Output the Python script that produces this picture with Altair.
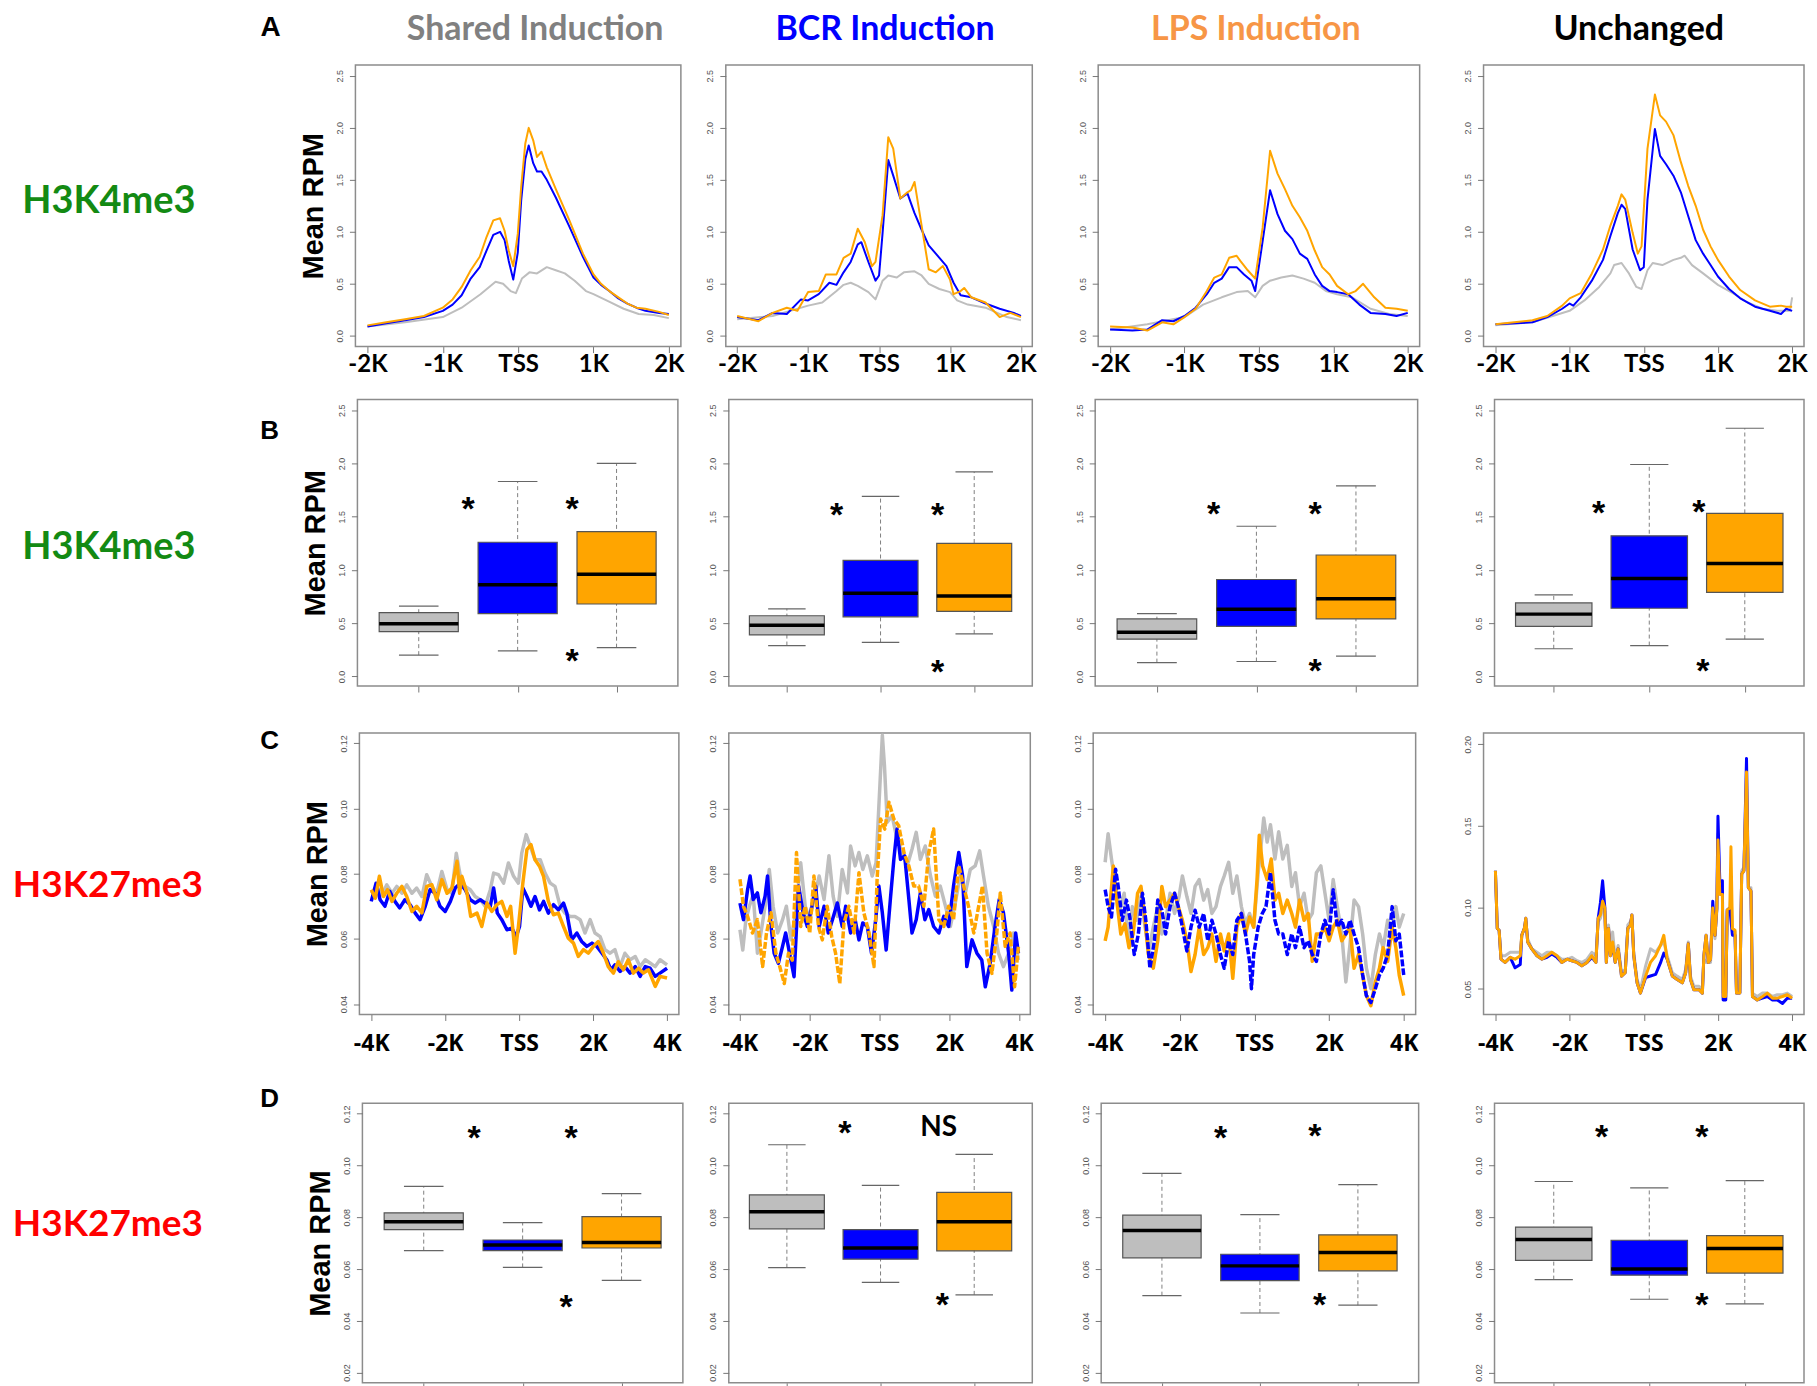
import altair as alt
import pandas as pd

# ---------------- colours / texts ----------------
GRAY = "#BEBEBE"
BLUE = "#0000FF"
ORANGE = "#FFA500"

COLUMN_TITLES = ["Shared Induction", "BCR Induction", "LPS Induction", "Unchanged"]
COLUMN_TITLE_COLORS = ["#808080", "#0000FF", "#F79646", "#000000"]
ROW_LABELS = ["H3K4me3", "H3K4me3", "H3K27me3", "H3K27me3"]
ROW_LABEL_COLORS = ["#138A13", "#138A13", "#FF0000", "#FF0000"]
PANEL_LETTERS = ["A", "B", "C", "D"]
Y_TITLE = "Mean RPM"

TICKS_2K = [-2, -1, 0, 1, 2]
LABELS_2K = ["-2K", "-1K", "TSS", "1K", "2K"]
TICKS_4K = [-4, -2, 0, 2, 4]
LABELS_4K = ["-4K", "-2K", "TSS", "2K", "4K"]
K4_Y_TICKS = [0.0, 0.5, 1.0, 1.5, 2.0, 2.5]
K27_Y_TICKS = [0.04, 0.06, 0.08, 0.10, 0.12]
K27_Y_TICKS_UNCH = [0.05, 0.10, 0.15, 0.20]
K27_BOX_Y_TICKS = [0.02, 0.04, 0.06, 0.08, 0.10, 0.12]
BOX_GROUPS = [1, 2, 3]
BOX_COLORS = [GRAY, BLUE, ORANGE]

# ---------------- row A : H3K4me3 profiles (x in kb) ----------------
A1_GRAY_X = [-2.0, -1.5, -1.0, -0.75, -0.5, -0.3, -0.2, -0.1, -0.03, 0.05, 0.15, 0.25, 0.38, 0.5, 0.62, 0.75, 0.9, 1.0, 1.2, 1.4, 1.6, 1.8, 2.0]
A1_GRAY_Y = [0.09, 0.13, 0.18, 0.27, 0.40, 0.52, 0.50, 0.43, 0.41, 0.55, 0.61, 0.60, 0.66, 0.63, 0.60, 0.53, 0.43, 0.40, 0.33, 0.26, 0.21, 0.20, 0.17]
A1_BLUE_X = [-2.0, -1.75, -1.5, -1.25, -1.0, -0.87, -0.75, -0.63, -0.51, -0.42, -0.33, -0.24, -0.18, -0.125, -0.065, -0.005, 0.04, 0.095, 0.14, 0.2, 0.25, 0.31, 0.38, 0.5, 0.68, 0.86, 1.0, 1.1, 1.21, 1.33, 1.45, 1.57, 1.69, 1.87, 2.0]
A1_BLUE_Y = [0.09, 0.12, 0.15, 0.18, 0.24, 0.30, 0.39, 0.55, 0.66, 0.82, 0.97, 1.00, 0.92, 0.72, 0.54, 0.80, 1.30, 1.70, 1.83, 1.66, 1.58, 1.58, 1.50, 1.33, 1.05, 0.76, 0.56, 0.49, 0.43, 0.36, 0.31, 0.27, 0.24, 0.22, 0.21]
A1_ORANGE_X = A1_BLUE_X
A1_ORANGE_Y = [0.10, 0.13, 0.16, 0.19, 0.27, 0.35, 0.47, 0.63, 0.76, 0.95, 1.11, 1.13, 1.01, 0.82, 0.67, 0.98, 1.43, 1.85, 2.00, 1.88, 1.72, 1.77, 1.62, 1.41, 1.11, 0.79, 0.59, 0.50, 0.43, 0.37, 0.31, 0.27, 0.26, 0.23, 0.20]

A2_GRAY_X = [-2.0, -1.5, -1.0, -0.8, -0.6, -0.5, -0.4, -0.3, -0.15, -0.05, 0.05, 0.13, 0.25, 0.35, 0.5, 0.6, 0.7, 0.85, 1.0, 1.1, 1.25, 1.5, 1.8, 2.0]
A2_GRAY_Y = [0.16, 0.19, 0.29, 0.32, 0.43, 0.49, 0.51, 0.48, 0.42, 0.35, 0.53, 0.58, 0.56, 0.61, 0.62, 0.58, 0.50, 0.45, 0.42, 0.34, 0.30, 0.27, 0.18, 0.15]
A2_BLUE_X = [-2.0, -1.7, -1.5, -1.3, -1.1, -1.0, -0.85, -0.7, -0.6, -0.5, -0.4, -0.3, -0.25, -0.15, -0.05, 0.0, 0.05, 0.13, 0.2, 0.3, 0.4, 0.5, 0.6, 0.7, 0.8, 0.95, 1.05, 1.15, 1.3, 1.5, 1.7, 1.9, 2.0]
A2_BLUE_Y = [0.18, 0.15, 0.22, 0.21, 0.35, 0.34, 0.40, 0.51, 0.49, 0.61, 0.71, 0.88, 0.90, 0.71, 0.53, 0.58, 0.99, 1.69, 1.54, 1.32, 1.37, 1.18, 1.02, 0.87, 0.79, 0.67, 0.51, 0.39, 0.37, 0.31, 0.26, 0.22, 0.19]
A2_ORANGE_X = [-2.0, -1.7, -1.5, -1.3, -1.15, -1.0, -0.85, -0.75, -0.6, -0.5, -0.4, -0.3, -0.2, -0.1, -0.05, 0.05, 0.13, 0.2, 0.3, 0.4, 0.45, 0.5, 0.6, 0.7, 0.8, 0.9, 1.0, 1.05, 1.15, 1.2, 1.3, 1.5, 1.7, 1.85, 2.0]
A2_ORANGE_Y = [0.19, 0.14, 0.22, 0.27, 0.24, 0.42, 0.43, 0.59, 0.59, 0.75, 0.79, 1.03, 0.90, 0.67, 0.71, 1.16, 1.91, 1.80, 1.32, 1.38, 1.40, 1.48, 1.06, 0.64, 0.61, 0.67, 0.54, 0.40, 0.43, 0.46, 0.37, 0.32, 0.18, 0.22, 0.18]

A3_GRAY_X = [-2.0, -1.5, -1.0, -0.75, -0.5, -0.3, -0.15, -0.05, 0.05, 0.15, 0.3, 0.45, 0.6, 0.75, 0.9, 1.05, 1.25, 1.5, 1.75, 2.0]
A3_GRAY_Y = [0.06, 0.11, 0.18, 0.30, 0.37, 0.42, 0.43, 0.37, 0.48, 0.53, 0.56, 0.58, 0.55, 0.51, 0.43, 0.40, 0.37, 0.26, 0.21, 0.19]
A3_BLUE_X = [-2.0, -1.7, -1.5, -1.3, -1.15, -1.0, -0.85, -0.7, -0.6, -0.5, -0.4, -0.3, -0.2, -0.1, -0.05, 0.05, 0.15, 0.25, 0.35, 0.45, 0.55, 0.65, 0.75, 0.85, 0.95, 1.05, 1.2, 1.35, 1.5, 1.7, 1.85, 2.0]
A3_BLUE_Y = [0.06, 0.05, 0.06, 0.15, 0.14, 0.19, 0.27, 0.40, 0.51, 0.55, 0.66, 0.66, 0.59, 0.53, 0.43, 0.91, 1.40, 1.17, 1.01, 0.93, 0.79, 0.74, 0.59, 0.48, 0.43, 0.42, 0.40, 0.30, 0.22, 0.21, 0.19, 0.22]
A3_ORANGE_X = [-2.0, -1.7, -1.5, -1.3, -1.15, -1.0, -0.85, -0.7, -0.6, -0.5, -0.4, -0.3, -0.25, -0.15, -0.05, 0.05, 0.15, 0.25, 0.35, 0.45, 0.55, 0.65, 0.75, 0.85, 0.95, 1.05, 1.2, 1.3, 1.4, 1.55, 1.7, 1.85, 2.0]
A3_ORANGE_Y = [0.09, 0.08, 0.05, 0.13, 0.11, 0.18, 0.26, 0.43, 0.56, 0.59, 0.75, 0.77, 0.72, 0.63, 0.55, 1.04, 1.78, 1.56, 1.41, 1.25, 1.14, 1.01, 0.82, 0.66, 0.59, 0.48, 0.40, 0.43, 0.50, 0.37, 0.27, 0.26, 0.24]

A4_GRAY_X = [-2.0, -1.5, -1.0, -0.8, -0.6, -0.45, -0.4, -0.3, -0.2, -0.1, -0.03, 0.05, 0.12, 0.25, 0.4, 0.5, 0.55, 0.65, 0.8, 1.0, 1.2, 1.4, 1.6, 1.8, 1.97, 2.0]
A4_GRAY_Y = [0.10, 0.13, 0.24, 0.34, 0.47, 0.60, 0.68, 0.70, 0.60, 0.47, 0.45, 0.63, 0.70, 0.68, 0.73, 0.75, 0.77, 0.68, 0.60, 0.49, 0.41, 0.32, 0.26, 0.24, 0.24, 0.37]
A4_BLUE_X = [-2.0, -1.5, -1.3, -1.1, -1.0, -0.95, -0.85, -0.7, -0.55, -0.45, -0.35, -0.3, -0.25, -0.15, -0.05, 0.0, 0.05, 0.15, 0.22, 0.3, 0.4, 0.5, 0.6, 0.7, 0.8, 0.9, 1.0, 1.15, 1.3, 1.5, 1.7, 1.85, 1.92, 2.0]
A4_BLUE_Y = [0.11, 0.13, 0.18, 0.26, 0.31, 0.29, 0.37, 0.53, 0.73, 0.96, 1.18, 1.26, 1.22, 0.83, 0.63, 0.66, 1.31, 1.99, 1.73, 1.65, 1.54, 1.38, 1.15, 0.92, 0.79, 0.68, 0.57, 0.45, 0.36, 0.28, 0.24, 0.21, 0.26, 0.24]
A4_ORANGE_X = [-2.0, -1.5, -1.3, -1.1, -1.0, -0.85, -0.7, -0.55, -0.45, -0.35, -0.3, -0.25, -0.15, -0.08, -0.03, 0.05, 0.15, 0.22, 0.3, 0.4, 0.5, 0.6, 0.7, 0.8, 0.9, 1.0, 1.15, 1.3, 1.5, 1.7, 1.85, 1.92, 2.0]
A4_ORANGE_Y = [0.11, 0.15, 0.19, 0.29, 0.36, 0.41, 0.60, 0.83, 1.06, 1.25, 1.36, 1.31, 0.99, 0.79, 0.86, 1.80, 2.32, 2.12, 2.06, 1.93, 1.67, 1.44, 1.25, 1.02, 0.86, 0.73, 0.57, 0.44, 0.34, 0.28, 0.29, 0.28, 0.28]

# ---------------- row B : H3K4me3 box statistics [low, q1, median, q3, high] ----------------
B1_STATS = [[0.20, 0.42, 0.495, 0.60, 0.66], [0.24, 0.59, 0.86, 1.26, 1.83], [0.27, 0.68, 0.96, 1.36, 2.00]]
B2_STATS = [[0.29, 0.39, 0.48, 0.57, 0.635], [0.32, 0.56, 0.78, 1.09, 1.69], [0.40, 0.61, 0.755, 1.25, 1.92]]
B3_STATS = [[0.13, 0.35, 0.415, 0.54, 0.59], [0.14, 0.47, 0.63, 0.91, 1.41], [0.19, 0.54, 0.73, 1.14, 1.79]]
B4_STATS = [[0.26, 0.47, 0.585, 0.69, 0.765], [0.29, 0.64, 0.92, 1.32, 1.99], [0.35, 0.79, 1.06, 1.53, 2.33]]
B1_MARKS = [("*", 1.50, 1.65), ("*", 2.55, 1.65), ("*", 2.55, 0.22)]
B2_MARKS = [("*", 1.53, 1.59), ("*", 2.61, 1.59), ("*", 2.61, 0.12)]
B3_MARKS = [("*", 1.57, 1.60), ("*", 2.59, 1.60), ("*", 2.59, 0.13)]
B4_MARKS = [("*", 1.47, 1.61), ("*", 2.52, 1.62), ("*", 2.56, 0.13)]

# ---------------- row C : H3K27me3 profiles (x in kb) ----------------
C1_GRAY_X = [-4.00, -3.85, -3.71, -3.58, -3.44, -3.31, -3.17, -3.04, -2.90, -2.77, -2.63, -2.50, -2.36, -2.23, -2.09, -1.95, -1.82, -1.70, -1.59, -1.46, -1.32, -1.19, -1.05, -0.92, -0.78, -0.69, -0.56, -0.42, -0.29, -0.15, -0.02, 0.07, 0.19, 0.30, 0.43, 0.57, 0.70, 0.84, 0.97, 1.11, 1.24, 1.38, 1.51, 1.65, 1.78, 1.92, 2.05, 2.19, 2.32, 2.46, 2.59, 2.73, 2.86, 3.00, 3.14, 3.27, 3.41, 3.54, 3.68, 3.81, 4.00]
C1_GRAY_Y = [0.074, 0.0761, 0.0735, 0.0766, 0.074, 0.0761, 0.074, 0.0766, 0.074, 0.0756, 0.073, 0.0797, 0.0761, 0.074, 0.0807, 0.0751, 0.074, 0.0863, 0.0792, 0.0761, 0.0751, 0.073, 0.072, 0.070, 0.0751, 0.0802, 0.0797, 0.0771, 0.0833, 0.0792, 0.0771, 0.0863, 0.092, 0.0884, 0.0843, 0.0843, 0.0802, 0.0771, 0.0761, 0.070, 0.0679, 0.0669, 0.0669, 0.0659, 0.0618, 0.0659, 0.0618, 0.0607, 0.0567, 0.0556, 0.0567, 0.0515, 0.0556, 0.0536, 0.0546, 0.0515, 0.0536, 0.0526, 0.0515, 0.0536, 0.052]
C1_BLUE_X = [-4.00, -3.87, -3.76, -3.63, -3.50, -3.36, -3.23, -3.09, -2.95, -2.81, -2.68, -2.54, -2.41, -2.27, -2.14, -2.00, -1.86, -1.73, -1.59, -1.46, -1.32, -1.19, -1.05, -0.92, -0.78, -0.69, -0.59, -0.47, -0.33, -0.20, -0.08, 0.01, 0.10, 0.21, 0.32, 0.43, 0.55, 0.66, 0.79, 0.93, 1.06, 1.20, 1.29, 1.42, 1.56, 1.69, 1.83, 1.97, 2.10, 2.24, 2.37, 2.48, 2.59, 2.73, 2.86, 3.00, 3.14, 3.27, 3.41, 3.54, 3.68, 3.81, 4.00]
C1_BLUE_Y = [0.0715, 0.0771, 0.072, 0.070, 0.0746, 0.0715, 0.0695, 0.072, 0.0705, 0.0679, 0.0659, 0.070, 0.0751, 0.074, 0.070, 0.0684, 0.0715, 0.0756, 0.0771, 0.0751, 0.072, 0.071, 0.072, 0.071, 0.070, 0.0756, 0.0679, 0.0659, 0.0628, 0.0633, 0.0607, 0.0638, 0.0756, 0.073, 0.070, 0.073, 0.0689, 0.0715, 0.0679, 0.0705, 0.0689, 0.071, 0.0679, 0.0597, 0.0618, 0.0592, 0.0577, 0.0587, 0.0577, 0.0556, 0.0536, 0.0505, 0.052, 0.05, 0.0515, 0.0495, 0.0515, 0.0485, 0.0515, 0.051, 0.0485, 0.0495, 0.051]
C1_ORANGE_X = [-4.00, -3.89, -3.78, -3.67, -3.56, -3.44, -3.31, -3.17, -3.04, -2.90, -2.77, -2.63, -2.50, -2.36, -2.23, -2.09, -1.95, -1.82, -1.68, -1.61, -1.55, -1.41, -1.31, -1.14, -1.01, -0.87, -0.74, -0.60, -0.47, -0.33, -0.23, -0.11, -0.02, 0.10, 0.21, 0.32, 0.43, 0.55, 0.66, 0.79, 0.93, 1.06, 1.20, 1.33, 1.47, 1.60, 1.74, 1.87, 2.01, 2.14, 2.28, 2.41, 2.55, 2.68, 2.82, 2.95, 3.09, 3.23, 3.36, 3.50, 3.68, 3.81, 4.00]
C1_ORANGE_Y = [0.0751, 0.0725, 0.0792, 0.073, 0.0751, 0.0715, 0.074, 0.0761, 0.073, 0.0684, 0.070, 0.068, 0.0761, 0.0766, 0.072, 0.0782, 0.074, 0.0756, 0.0838, 0.074, 0.0792, 0.074, 0.0669, 0.0679, 0.0638, 0.071, 0.0684, 0.0705, 0.0715, 0.0669, 0.070, 0.0556, 0.0638, 0.0771, 0.0874, 0.0889, 0.0843, 0.0823, 0.0792, 0.0715, 0.0674, 0.0679, 0.0638, 0.0602, 0.0587, 0.0546, 0.0567, 0.0556, 0.0577, 0.0592, 0.0556, 0.0515, 0.0495, 0.053, 0.0505, 0.0536, 0.0495, 0.051, 0.0495, 0.0505, 0.0454, 0.0485, 0.048]

C2_GRAY_X = [-4.00, -3.92, -3.83, -3.73, -3.62, -3.50, -3.40, -3.28, -3.16, -3.05, -2.92, -2.78, -2.67, -2.54, -2.40, -2.26, -2.13, -2.00, -1.88, -1.73, -1.59, -1.45, -1.33, -1.21, -1.07, -0.92, -0.83, -0.70, -0.59, -0.48, -0.35, -0.21, -0.10, 0.01, 0.08, 0.14, 0.22, 0.36, 0.50, 0.65, 0.79, 0.93, 1.05, 1.17, 1.31, 1.46, 1.60, 1.74, 1.89, 2.03, 2.17, 2.31, 2.46, 2.60, 2.74, 2.87, 2.98, 3.12, 3.27, 3.41, 3.55, 3.70, 3.84, 3.98]
C2_GRAY_Y = [0.0628, 0.0566, 0.0659, 0.070, 0.0736, 0.0556, 0.0618, 0.070, 0.0813, 0.070, 0.0618, 0.0659, 0.070, 0.0597, 0.068, 0.0834, 0.070, 0.0659, 0.0721, 0.0793, 0.0721, 0.0855, 0.0731, 0.0669, 0.0813, 0.0741, 0.0885, 0.0824, 0.0865, 0.0813, 0.0855, 0.0793, 0.0834, 0.1071, 0.1225, 0.1133, 0.0958, 0.0978, 0.0906, 0.0865, 0.0824, 0.0875, 0.0927, 0.0844, 0.0885, 0.0793, 0.0731, 0.0762, 0.070, 0.0638, 0.071, 0.0793, 0.0741, 0.0813, 0.0824, 0.087, 0.0793, 0.070, 0.0638, 0.0556, 0.0515, 0.0556, 0.0618, 0.0535]
C2_BLUE_X = [-4.00, -3.90, -3.78, -3.71, -3.62, -3.50, -3.40, -3.28, -3.21, -3.11, -3.02, -2.90, -2.78, -2.69, -2.54, -2.45, -2.32, -2.19, -2.07, -1.94, -1.83, -1.73, -1.59, -1.47, -1.35, -1.21, -1.07, -0.97, -0.83, -0.70, -0.59, -0.48, -0.35, -0.23, -0.11, -0.02, 0.08, 0.19, 0.31, 0.41, 0.50, 0.60, 0.72, 0.84, 0.93, 1.05, 1.17, 1.30, 1.41, 1.55, 1.70, 1.84, 1.98, 2.12, 2.27, 2.38, 2.50, 2.65, 2.79, 2.93, 3.03, 3.17, 3.31, 3.43, 3.55, 3.70, 3.79, 3.90, 3.98]
C2_BLUE_Y = [0.071, 0.0659, 0.0752, 0.0793, 0.0721, 0.0741, 0.068, 0.0731, 0.0793, 0.0638, 0.0556, 0.0525, 0.0577, 0.0618, 0.0535, 0.0484, 0.0762, 0.068, 0.0638, 0.070, 0.0762, 0.0638, 0.070, 0.0618, 0.0659, 0.071, 0.0638, 0.070, 0.0618, 0.0659, 0.0597, 0.0649, 0.0638, 0.0556, 0.0659, 0.0762, 0.068, 0.0566, 0.0721, 0.0844, 0.0937, 0.0844, 0.0855, 0.0721, 0.0618, 0.0659, 0.0741, 0.0659, 0.069, 0.0638, 0.0618, 0.0669, 0.0638, 0.0762, 0.0865, 0.0793, 0.0515, 0.0597, 0.0556, 0.0535, 0.0453, 0.0525, 0.0638, 0.0721, 0.068, 0.0556, 0.0443, 0.0618, 0.0556]
C2_ORANGE_X = [-4.00, -3.90, -3.78, -3.64, -3.50, -3.35, -3.24, -3.11, -2.97, -2.86, -2.73, -2.61, -2.50, -2.38, -2.26, -2.13, -2.00, -1.88, -1.75, -1.64, -1.50, -1.37, -1.26, -1.14, -1.02, -0.88, -0.73, -0.59, -0.45, -0.30, -0.16, -0.07, 0.03, 0.15, 0.27, 0.41, 0.55, 0.70, 0.84, 0.98, 1.12, 1.27, 1.41, 1.55, 1.70, 1.84, 1.98, 2.12, 2.27, 2.41, 2.55, 2.70, 2.84, 2.95, 3.08, 3.22, 3.36, 3.46, 3.60, 3.74, 3.87, 3.98]
C2_ORANGE_Y = [0.0783, 0.070, 0.0669, 0.0618, 0.0659, 0.0515, 0.0618, 0.068, 0.0556, 0.0515, 0.0463, 0.0556, 0.0535, 0.0865, 0.0638, 0.070, 0.0618, 0.0793, 0.0638, 0.0597, 0.070, 0.0607, 0.0556, 0.0463, 0.0649, 0.070, 0.0618, 0.0803, 0.068, 0.0618, 0.0515, 0.0783, 0.0968, 0.0937, 0.1019, 0.0968, 0.0947, 0.0865, 0.0824, 0.0762, 0.0762, 0.070, 0.0865, 0.0937, 0.0659, 0.0638, 0.070, 0.0659, 0.0824, 0.0762, 0.070, 0.0618, 0.070, 0.0762, 0.0556, 0.0494, 0.0618, 0.0741, 0.0577, 0.0618, 0.0453, 0.0577]

C3_GRAY_X = [-4.00, -3.92, -3.83, -3.72, -3.61, -3.49, -3.38, -3.27, -3.16, -3.04, -2.93, -2.83, -2.71, -2.59, -2.48, -2.38, -2.26, -2.14, -2.02, -1.93, -1.81, -1.70, -1.59, -1.48, -1.36, -1.25, -1.14, -1.03, -0.91, -0.81, -0.69, -0.58, -0.47, -0.35, -0.24, -0.13, -0.02, 0.10, 0.16, 0.25, 0.34, 0.43, 0.55, 0.65, 0.76, 0.88, 1.00, 1.10, 1.21, 1.33, 1.44, 1.55, 1.66, 1.78, 1.89, 2.00, 2.11, 2.22, 2.34, 2.45, 2.56, 2.67, 2.79, 2.90, 3.00, 3.12, 3.24, 3.35, 3.45, 3.57, 3.69, 3.79, 3.88, 4.00]
C3_GRAY_Y = [0.0835, 0.0923, 0.0845, 0.0761, 0.0688, 0.074, 0.0594, 0.0699, 0.0657, 0.073, 0.0636, 0.0563, 0.0636, 0.0699, 0.0615, 0.0657, 0.074, 0.0678, 0.073, 0.0793, 0.073, 0.0678, 0.0761, 0.0782, 0.0719, 0.0751, 0.0678, 0.0699, 0.0761, 0.0793, 0.0835, 0.074, 0.0793, 0.0699, 0.0646, 0.0678, 0.0636, 0.0803, 0.0866, 0.0971, 0.0897, 0.095, 0.0845, 0.0929, 0.0845, 0.0887, 0.0761, 0.0803, 0.0699, 0.074, 0.0657, 0.0678, 0.0803, 0.0824, 0.074, 0.0657, 0.0782, 0.0699, 0.0615, 0.0468, 0.0583, 0.0719, 0.0699, 0.0615, 0.051, 0.0447, 0.0552, 0.0615, 0.0573, 0.0657, 0.0636, 0.0699, 0.0636, 0.0678]
C3_BLUE_X = [-4.00, -3.92, -3.83, -3.72, -3.65, -3.54, -3.43, -3.34, -3.22, -3.11, -3.00, -2.91, -2.80, -2.68, -2.59, -2.48, -2.38, -2.26, -2.14, -2.04, -1.93, -1.81, -1.70, -1.59, -1.48, -1.36, -1.25, -1.14, -1.03, -0.91, -0.81, -0.69, -0.58, -0.47, -0.35, -0.24, -0.13, -0.08, -0.02, 0.10, 0.21, 0.31, 0.43, 0.55, 0.65, 0.76, 0.88, 1.00, 1.10, 1.21, 1.33, 1.44, 1.55, 1.66, 1.78, 1.89, 2.00, 2.11, 2.22, 2.34, 2.45, 2.56, 2.67, 2.79, 2.90, 3.00, 3.12, 3.24, 3.35, 3.45, 3.57, 3.69, 3.79, 3.88, 4.00]
C3_BLUE_Y = [0.0751, 0.0699, 0.0667, 0.0814, 0.0761, 0.0657, 0.0719, 0.0667, 0.0552, 0.0615, 0.074, 0.0657, 0.051, 0.0594, 0.0719, 0.0688, 0.0615, 0.0699, 0.074, 0.0699, 0.0636, 0.0563, 0.0636, 0.0688, 0.0636, 0.0678, 0.0594, 0.0657, 0.0615, 0.0552, 0.051, 0.0594, 0.0552, 0.0657, 0.0678, 0.0615, 0.0531, 0.0447, 0.0552, 0.0636, 0.0678, 0.0699, 0.0803, 0.0657, 0.0615, 0.0615, 0.0552, 0.0615, 0.0573, 0.0636, 0.0573, 0.0594, 0.0552, 0.0531, 0.0615, 0.0657, 0.0615, 0.0751, 0.0636, 0.0657, 0.0615, 0.0657, 0.0615, 0.0573, 0.0489, 0.0426, 0.0405, 0.0447, 0.0489, 0.051, 0.0552, 0.0699, 0.0594, 0.0615, 0.0489]
C3_ORANGE_X = [-4.00, -3.92, -3.78, -3.69, -3.58, -3.47, -3.36, -3.25, -3.13, -3.04, -2.95, -2.84, -2.71, -2.59, -2.48, -2.38, -2.26, -2.14, -2.04, -1.93, -1.81, -1.70, -1.59, -1.48, -1.36, -1.25, -1.14, -1.03, -0.91, -0.81, -0.69, -0.58, -0.47, -0.35, -0.24, -0.13, -0.02, 0.07, 0.13, 0.22, 0.34, 0.45, 0.55, 0.65, 0.76, 0.88, 1.00, 1.10, 1.21, 1.33, 1.44, 1.55, 1.66, 1.78, 1.89, 2.00, 2.11, 2.22, 2.34, 2.45, 2.56, 2.67, 2.79, 2.90, 3.00, 3.12, 3.24, 3.35, 3.45, 3.57, 3.69, 3.79, 3.88, 4.00]
C3_ORANGE_Y = [0.0594, 0.0636, 0.0824, 0.0719, 0.0615, 0.0646, 0.0573, 0.0615, 0.074, 0.0761, 0.0678, 0.0552, 0.051, 0.0594, 0.0761, 0.0699, 0.0719, 0.074, 0.0699, 0.0657, 0.0594, 0.05, 0.0552, 0.0636, 0.0552, 0.0573, 0.0615, 0.0531, 0.0615, 0.0563, 0.0615, 0.0479, 0.0636, 0.0678, 0.0615, 0.0667, 0.0636, 0.0782, 0.0918, 0.0824, 0.0782, 0.0845, 0.0719, 0.074, 0.0678, 0.0719, 0.0678, 0.0636, 0.0719, 0.0657, 0.0678, 0.0531, 0.0615, 0.0615, 0.0636, 0.0594, 0.0636, 0.0657, 0.0594, 0.0615, 0.0636, 0.051, 0.0552, 0.0489, 0.0426, 0.0395, 0.0468, 0.051, 0.0573, 0.0531, 0.0636, 0.0573, 0.0489, 0.0426]

C4_X = [-4.00, -3.95, -3.90, -3.85, -3.74, -3.60, -3.47, -3.33, -3.29, -3.22, -3.18, -3.13, -3.02, -2.88, -2.75, -2.61, -2.48, -2.34, -2.21, -2.07, -1.94, -1.80, -1.67, -1.53, -1.40, -1.29, -1.23, -1.17, -1.11, -1.05, -1.01, -0.95, -0.90, -0.84, -0.77, -0.69, -0.60, -0.50, -0.43, -0.36, -0.32, -0.27, -0.18, -0.09, 0.05, 0.18, 0.32, 0.45, 0.54, 0.63, 0.77, 0.90, 1.04, 1.13, 1.20, 1.26, 1.35, 1.49, 1.58, 1.62, 1.68, 1.74, 1.80, 1.86, 1.92, 1.97, 2.00, 2.05, 2.12, 2.14, 2.21, 2.25, 2.32, 2.35, 2.39, 2.46, 2.50, 2.59, 2.64, 2.70, 2.77, 2.82, 2.89, 2.93, 3.06, 3.20, 3.33, 3.47, 3.60, 3.74, 3.87, 4.00]
C4_GRAY_Y = [0.1225, 0.0871, 0.086, 0.0704, 0.0704, 0.0725, 0.0725, 0.0725, 0.0829, 0.0871, 0.0912, 0.0808, 0.0746, 0.0725, 0.0704, 0.0725, 0.0725, 0.0704, 0.0683, 0.0683, 0.0694, 0.0673, 0.0663, 0.0683, 0.0725, 0.0704, 0.0912, 0.0933, 0.0996, 0.0975, 0.0725, 0.0892, 0.0746, 0.0850, 0.0683, 0.0767, 0.0600, 0.0621, 0.0892, 0.0912, 0.0933, 0.0725, 0.0558, 0.0496, 0.0642, 0.0746, 0.0725, 0.0767, 0.0788, 0.0704, 0.0600, 0.0579, 0.0558, 0.0621, 0.0788, 0.0579, 0.0517, 0.0517, 0.0496, 0.0683, 0.0663, 0.0663, 0.0663, 0.0975, 0.0808, 0.0975, 0.1450, 0.1100, 0.1100, 0.0475, 0.0475, 0.0975, 0.0975, 0.1100, 0.0871, 0.0850, 0.0475, 0.0475, 0.1225, 0.1246, 0.1750, 0.1121, 0.1121, 0.0475, 0.0454, 0.0475, 0.0475, 0.0454, 0.0465, 0.0465, 0.0475, 0.0454]
C4_BLUE_Y = [0.1225, 0.0871, 0.086, 0.0683, 0.0663, 0.0694, 0.063, 0.065, 0.0829, 0.0871, 0.0933, 0.0788, 0.0746, 0.0704, 0.0683, 0.0694, 0.0715, 0.0694, 0.0663, 0.0683, 0.0673, 0.0663, 0.0642, 0.0663, 0.0694, 0.0663, 0.0933, 0.1027, 0.1163, 0.1000, 0.0663, 0.0871, 0.0704, 0.0767, 0.0663, 0.0746, 0.0579, 0.06, 0.0871, 0.0892, 0.0954, 0.0704, 0.0538, 0.0475, 0.057, 0.058, 0.059, 0.066, 0.072, 0.0683, 0.0579, 0.0558, 0.0538, 0.06, 0.0777, 0.0558, 0.0496, 0.0496, 0.0475, 0.0704, 0.0829, 0.0663, 0.0683, 0.1038, 0.0829, 0.0996, 0.1558, 0.116, 0.1163, 0.0433, 0.0433, 0.0985, 0.0996, 0.092, 0.083, 0.083, 0.0475, 0.0475, 0.1204, 0.1225, 0.1913, 0.1121, 0.11, 0.0454, 0.0433, 0.0444, 0.0454, 0.0433, 0.0433, 0.0412, 0.0444, 0.0444]
C4_ORANGE_Y = [0.1225, 0.0871, 0.086, 0.0683, 0.0663, 0.0694, 0.0683, 0.0704, 0.0829, 0.0871, 0.0933, 0.0788, 0.0746, 0.0704, 0.0683, 0.0704, 0.0725, 0.0704, 0.0663, 0.0683, 0.0673, 0.0663, 0.0642, 0.0663, 0.0704, 0.0663, 0.0933, 0.0954, 0.1038, 0.0996, 0.0663, 0.0871, 0.0704, 0.0788, 0.0663, 0.0746, 0.0579, 0.06, 0.0871, 0.0892, 0.0954, 0.0704, 0.0538, 0.0475, 0.0579, 0.0663, 0.0704, 0.0767, 0.0829, 0.0683, 0.0579, 0.0558, 0.0538, 0.06, 0.0777, 0.0558, 0.0496, 0.0496, 0.0475, 0.0704, 0.0829, 0.0663, 0.0683, 0.0996, 0.0829, 0.0996, 0.1413, 0.1079, 0.1079, 0.0454, 0.0454, 0.0985, 0.0996, 0.1371, 0.0871, 0.086, 0.0475, 0.0475, 0.1204, 0.1225, 0.1829, 0.1121, 0.11, 0.0454, 0.0433, 0.0454, 0.0475, 0.0444, 0.0444, 0.0454, 0.0465, 0.0444]

# ---------------- row D : H3K27me3 box statistics ----------------
D1_STATS = [[0.0671, 0.0752, 0.0782, 0.0817, 0.0919], [0.0606, 0.0671, 0.0693, 0.0712, 0.0779], [0.0556, 0.0681, 0.0702, 0.0802, 0.0891]]
D2_STATS = [[0.0605, 0.0755, 0.0821, 0.0886, 0.108], [0.0548, 0.0638, 0.0681, 0.0752, 0.0923], [0.050, 0.067, 0.0782, 0.0896, 0.1043]]
D3_STATS = [[0.0497, 0.0643, 0.0749, 0.0808, 0.0969], [0.043, 0.0555, 0.0612, 0.0657, 0.081], [0.046, 0.0593, 0.0664, 0.0732, 0.0926]]
D4_STATS = [[0.0559, 0.0633, 0.0714, 0.0762, 0.0938], [0.0483, 0.0576, 0.060, 0.0711, 0.0913], [0.0465, 0.0584, 0.0679, 0.0729, 0.0941]]
D1_MARKS = [("*", 1.51, 0.1136), ("*", 2.49, 0.1136), ("*", 2.44, 0.0485)]
D2_MARKS = [("*", 1.62, 0.1158), ("NS", 2.62, 0.1145), ("*", 2.66, 0.0490)]
D3_MARKS = [("*", 1.60, 0.1138), ("*", 2.56, 0.1144), ("*", 2.61, 0.0493)]
D4_MARKS = [("*", 1.50, 0.1142), ("*", 2.55, 0.1140), ("*", 2.55, 0.0492)]

DUMMY = pd.DataFrame({"d": [0]})
BOX_HALF = 0.4
CAP_HALF = 0.2


def label_expr(ticks, labels):
    expr = "''"
    for t, lab in reversed(list(zip(ticks, labels))):
        expr = f"datum.value == {t} ? '{lab}' : {expr}"
    return expr


def x_axis_profile(ticks, labels, font, size, pad):
    return alt.Axis(values=ticks, labelExpr=label_expr(ticks, labels), labelFont=font,
                    labelFontSize=size, labelFontWeight="bold", labelColor="black",
                    labelPadding=pad, tickSize=6, tickColor="#777777", tickWidth=1,
                    domain=False, grid=False, labelFlush=False, labelOverlap=False)


def y_axis(ticks, fmt, with_title):
    kw = dict(values=ticks, format=fmt, labelAngle=270, labelAlign="center",
              labelBaseline="bottom", labelFont="Liberation Sans", labelFontSize=9,
              labelColor="#555555", labelPadding=5, tickSize=6, tickColor="#777777",
              tickWidth=1, domain=False, grid=False, labelFlush=False, labelOverlap=False)
    if with_title:
        kw.update(titleFont="Liberation Sans", titleFontSize=29, titleFontWeight="bold",
                  titleColor="black", titlePadding=7)
    return alt.Axis(**kw)


def col_title(i, dx):
    return alt.TitleParams(COLUMN_TITLES[i], color=COLUMN_TITLE_COLORS[i], font="Lato",
                           fontSize=34, fontWeight="bold", offset=18, anchor="middle", dx=dx)


def profile_panel(series, xdom, xticks, xlabels, xfont, xsize, xpad, ydom, yticks, yfmt,
                  width, height, sw, ytitle=None, title=None):
    xs = alt.Scale(domain=xdom, nice=False, zero=False)
    ys = alt.Scale(domain=ydom, nice=False, zero=False)
    xa = x_axis_profile(xticks, xlabels, xfont, xsize, xpad)
    ya = y_axis(yticks, yfmt, ytitle is not None)
    layers = []
    for xv, yv, color, dash in series:
        n = min(len(xv), len(yv))
        df = pd.DataFrame({"x": xv[:n], "y": yv[:n]})
        mk = dict(color=color, strokeWidth=sw, clip=True, strokeJoin="round")
        if dash:
            mk["strokeDash"] = dash
        layers.append(alt.Chart(df).mark_line(**mk).encode(
            x=alt.X("x:Q", scale=xs, axis=xa, title=None),
            y=alt.Y("y:Q", scale=ys, axis=ya, title=ytitle)))
    ch = alt.layer(*layers)
    if title is not None:
        return ch.properties(width=width, height=height, title=title)
    return ch.properties(width=width, height=height)


def box_panel(stats, marks, ydom, yticks, yfmt, width, height, ytitle=None):
    rows = []
    for g, col, (lo, q1, md, q3, hi) in zip(BOX_GROUPS, BOX_COLORS, stats):
        rows.append(dict(g=g, fill=col, lo=lo, q1=q1, md=md, q3=q3, hi=hi,
                         bl=g - BOX_HALF, br=g + BOX_HALF, cl=g - CAP_HALF, cr=g + CAP_HALF))
    df = pd.DataFrame(rows)
    xs = alt.Scale(domain=[0.38, 3.62], nice=False, zero=False)
    ys = alt.Scale(domain=ydom, nice=False, zero=False)
    xa = alt.Axis(values=BOX_GROUPS, labels=False, tickSize=6, tickColor="#777777",
                  tickWidth=1, domain=False, grid=False)
    ya = y_axis(yticks, yfmt, ytitle is not None)

    def X(f):
        return alt.X(f, scale=xs, axis=xa, title=None)

    def Y(f):
        return alt.Y(f, scale=ys, axis=ya, title=ytitle)

    base = alt.Chart(df)
    whisk = base.mark_rule(color="#808080", strokeDash=[4, 3], strokeWidth=1).encode(
        x=X("g:Q"), y=Y("lo:Q"), y2="hi:Q")
    box = base.mark_rect(stroke="#555555", strokeWidth=1.2).encode(
        x=X("bl:Q"), x2="br:Q", y=Y("q1:Q"), y2="q3:Q", fill=alt.Fill("fill:N", scale=None))
    med = base.mark_rule(color="black", strokeWidth=3.5).encode(x=X("bl:Q"), x2="br:Q", y=Y("md:Q"))
    cap_lo = base.mark_rule(color="#666666", strokeWidth=1.2).encode(x=X("cl:Q"), x2="cr:Q", y=Y("lo:Q"))
    cap_hi = base.mark_rule(color="#666666", strokeWidth=1.2).encode(x=X("cl:Q"), x2="cr:Q", y=Y("hi:Q"))
    layers = [whisk, box, med, cap_lo, cap_hi]
    stars = [m for m in marks if m[0] == "*"]
    words = [m for m in marks if m[0] != "*"]
    if stars:
        sdf = pd.DataFrame(stars, columns=["t", "x", "y"])
        layers.append(alt.Chart(sdf).mark_text(font="Liberation Sans", fontWeight="bold",
                                               fontSize=34, baseline="alphabetic", dy=19,
                                               color="black").encode(
            x=X("x:Q"), y=Y("y:Q"), text="t:N"))
    if words:
        wdf = pd.DataFrame(words, columns=["t", "x", "y"])
        layers.append(alt.Chart(wdf).mark_text(font="Lato", fontWeight="bold", fontSize=28,
                                               baseline="middle", color="black").encode(
            x=X("x:Q"), y=Y("y:Q"), text="t:N"))
    return alt.layer(*layers).properties(width=width, height=height)


def text_item(txt, x, y, font, size, color, baseline="middle"):
    return alt.Chart(DUMMY).mark_text(text=txt, font=font, fontSize=size, fontWeight="bold",
                                      color=color, align="center", baseline=baseline).encode(
        x=alt.value(x), y=alt.value(y))


def label_panel(width, height, items, title=None):
    ch = alt.layer(*items)
    props = dict(width=width, height=height, view=alt.ViewBackground(stroke="transparent"))
    if title is not None:
        props["title"] = title
    return ch.properties(**props)


def spacer(w):
    return alt.Chart(DUMMY).mark_point(opacity=0, size=1).encode(
        x=alt.value(4), y=alt.value(5)).properties(
        width=w, height=10, view=alt.ViewBackground(stroke="transparent"))


def make_row(label, panels, gaps):
    items = [label]
    for i, p in enumerate(panels):
        if i > 0:
            items.append(spacer(gaps[i - 1]))
        items.append(p)
    return alt.hconcat(*items, spacing=0, bounds="flush")


A_DOM_X = [-2.16, 2.16]
A_DOM_Y = [-0.104, 2.604]
C_DOM_X = [-4.32, 4.32]
C_DOM_Y = [0.0368, 0.1232]
C4_DOM_Y = [0.0344, 0.2069]
B_DOM_Y = [-0.09, 2.6]
D_DOM_Y = [0.016, 0.124]

# ---------- row A ----------
A_SERIES = [
    [(A1_GRAY_X, A1_GRAY_Y, GRAY, None), (A1_BLUE_X, A1_BLUE_Y, BLUE, None), (A1_ORANGE_X, A1_ORANGE_Y, ORANGE, None)],
    [(A2_GRAY_X, A2_GRAY_Y, GRAY, None), (A2_BLUE_X, A2_BLUE_Y, BLUE, None), (A2_ORANGE_X, A2_ORANGE_Y, ORANGE, None)],
    [(A3_GRAY_X, A3_GRAY_Y, GRAY, None), (A3_BLUE_X, A3_BLUE_Y, BLUE, None), (A3_ORANGE_X, A3_ORANGE_Y, ORANGE, None)],
    [(A4_GRAY_X, A4_GRAY_Y, GRAY, None), (A4_BLUE_X, A4_BLUE_Y, BLUE, None), (A4_ORANGE_X, A4_ORANGE_Y, ORANGE, None)],
]
A_W = [326, 307, 322, 321]
A_GAPS = [45, 66, 64]
A_DX = [17, 6, -3, -5]
a_panels = []
for i in range(4):
    a_panels.append(profile_panel(A_SERIES[i], A_DOM_X, TICKS_2K, LABELS_2K, "Lato", 24, 0,
                                  A_DOM_Y, K4_Y_TICKS, ".1f", A_W[i], 282, 2,
                                  ytitle=Y_TITLE if i == 0 else None, title=col_title(i, A_DX[i])))
label_a = label_panel(347, 333, [text_item(ROW_LABELS[0], 100, 137, "Lato", 38, ROW_LABEL_COLORS[0])],
                      title=alt.TitleParams(PANEL_LETTERS[0], anchor="start", dx=252, dy=-5,
                                            font="Liberation Sans", fontSize=28,
                                            fontWeight="bold", color="black", offset=18))
row_a = make_row(label_a, a_panels, A_GAPS)

# ---------- row B ----------
B_ALL = [(B1_STATS, B1_MARKS), (B2_STATS, B2_MARKS), (B3_STATS, B3_MARKS), (B4_STATS, B4_MARKS)]
B_W = [321, 304, 323, 310]
B_GAPS = [51, 63, 77]
b_panels = [box_panel(s, m, B_DOM_Y, K4_Y_TICKS, ".1f", B_W[i], 287,
                      ytitle=Y_TITLE if i == 0 else None) for i, (s, m) in enumerate(B_ALL)]
label_b = label_panel(349, 327, [
    text_item(ROW_LABELS[1], 100, 149, "Lato", 38, ROW_LABEL_COLORS[1]),
    text_item(PANEL_LETTERS[1], 261, 32, "Liberation Sans", 26, "black"),
])
row_b = make_row(label_b, b_panels, B_GAPS)

# ---------- row C ----------
C_SERIES = [
    ([(C1_GRAY_X, C1_GRAY_Y, GRAY, None), (C1_BLUE_X, C1_BLUE_Y, BLUE, None), (C1_ORANGE_X, C1_ORANGE_Y, ORANGE, None)], C_DOM_Y, K27_Y_TICKS),
    ([(C2_GRAY_X, C2_GRAY_Y, GRAY, None), (C2_BLUE_X, C2_BLUE_Y, BLUE, None), (C2_ORANGE_X, C2_ORANGE_Y, ORANGE, [7, 2])], C_DOM_Y, K27_Y_TICKS),
    ([(C3_GRAY_X, C3_GRAY_Y, GRAY, None), (C3_ORANGE_X, C3_ORANGE_Y, ORANGE, None), (C3_BLUE_X, C3_BLUE_Y, BLUE, [7, 2])], C_DOM_Y, K27_Y_TICKS),
    ([(C4_X, C4_GRAY_Y, GRAY, None), (C4_X, C4_BLUE_Y, BLUE, None), (C4_X, C4_ORANGE_Y, ORANGE, None)], C4_DOM_Y, K27_Y_TICKS_UNCH),
]
C_W = [320, 302, 323, 321]
C_GAPS = [50, 63, 68]
c_panels = []
for i, (ser, ydom, yt) in enumerate(C_SERIES):
    c_panels.append(profile_panel(ser, C_DOM_X, TICKS_4K, LABELS_4K, "Open Sans", 23, 12,
                                  ydom, yt, ".2f", C_W[i], 282, 3.5 if i < 3 else 3,
                                  ytitle=Y_TITLE if i == 0 else None))
label_c = label_panel(351, 352, [
    text_item(ROW_LABELS[2], 99, 153, "Lato", 37, ROW_LABEL_COLORS[2]),
    text_item(PANEL_LETTERS[2], 261, 8, "Liberation Sans", 26, "black"),
])
row_c = make_row(label_c, c_panels, C_GAPS)

# ---------- row D ----------
D_ALL = [(D1_STATS, D1_MARKS), (D2_STATS, D2_MARKS), (D3_STATS, D3_MARKS), (D4_STATS, D4_MARKS)]
D_W = [321, 304, 318, 310]
D_GAPS = [46, 69, 76]
d_panels = [box_panel(s, m, D_DOM_Y, K27_BOX_Y_TICKS, ".2f", D_W[i], 280,
                      ytitle=Y_TITLE if i == 0 else None) for i, (s, m) in enumerate(D_ALL)]
label_d = label_panel(354, 280, [
    text_item(ROW_LABELS[3], 99, 122, "Lato", 37, ROW_LABEL_COLORS[3]),
    text_item(PANEL_LETTERS[3], 261, -4, "Liberation Sans", 26, "black"),
])
row_d = make_row(label_d, d_panels, D_GAPS)

chart = alt.vconcat(row_a, row_b, row_c, row_d, spacing=0).properties(
    padding={"left": 0, "top": 3, "right": 0, "bottom": 0}
).configure_view(stroke="#8c8c8c", strokeWidth=1.5)

chart.save("out.html", embed_options={"renderer": "svg", "actions": False})
